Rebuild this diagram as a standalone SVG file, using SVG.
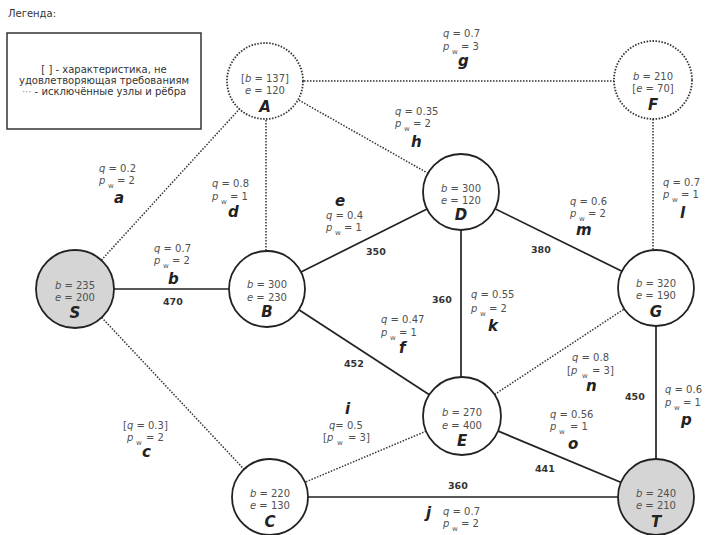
<svg xmlns="http://www.w3.org/2000/svg" width="705" height="535" viewBox="0 0 705 535">
<style>
text{font-family:"DejaVu Sans","Liberation Sans",sans-serif}
.lbl{font-size:10px;fill:#505050}
.it{font-style:italic}
.sub{font-size:7px}
.num{font-size:9.5px;font-weight:bold;fill:#333}
.let{font-size:15px;font-weight:bold;font-style:italic;fill:#222}
.ntx{font-size:10px;fill:#505050;text-anchor:middle}
.nlet{font-size:15px;font-weight:bold;font-style:italic;fill:#222;text-anchor:middle}
.node circle{fill:#fff;stroke:#222;stroke-width:1.8}
.node.grey circle{fill:#d5d5d5}
.node.excl circle{stroke:#333;stroke-dasharray:1.5 1.5}
.solid{stroke:#222;stroke-width:1.7;fill:none}
.dot{stroke:#333;stroke-width:1.5;stroke-dasharray:1.5 1.5;fill:none}
.leg{font-size:10px;fill:#333;text-anchor:middle}
</style>
<rect width="705" height="535" fill="#fff"/>
<g id="legend">
<text x="8" y="17" style="font-size:10px;fill:#333">Легенда:</text>
<rect x="7" y="33" width="194" height="96" fill="#fff" stroke="#333" stroke-width="1.5"/>
<text class="leg" x="104" y="73">[ ] - характеристика, не</text>
<text class="leg" x="104" y="84">удовлетворяющая требованиям</text>
<text class="leg" x="104" y="95"><tspan fill="#999">···</tspan> - исключённые узлы и рёбра</text>
</g>
<g id="edges">
<line id="edge-a" class="dot" x1="75" y1="289" x2="265" y2="81"/>
<line id="edge-b" class="solid" x1="75" y1="289" x2="267" y2="289"/>
<line id="edge-c" class="dot" x1="75" y1="289" x2="270" y2="497"/>
<line id="edge-d" class="dot" x1="266" y1="81" x2="266" y2="289"/>
<line id="edge-e" class="solid" x1="267" y1="289" x2="461" y2="192"/>
<line id="edge-f" class="solid" x1="267" y1="289" x2="462" y2="416"/>
<line id="edge-g" class="dot" x1="265" y1="81" x2="653" y2="81"/>
<line id="edge-h" class="dot" x1="265" y1="81" x2="461" y2="192"/>
<line id="edge-i" class="dot" x1="270" y1="497" x2="462" y2="416"/>
<line id="edge-j" class="solid" x1="270" y1="497" x2="656" y2="497"/>
<line id="edge-k" class="solid" x1="461" y1="192" x2="461" y2="416"/>
<line id="edge-l" class="dot" x1="653" y1="80" x2="653" y2="288"/>
<line id="edge-m" class="solid" x1="461" y1="192" x2="656" y2="288"/>
<line id="edge-n" class="dot" x1="462" y1="416" x2="656" y2="288"/>
<line id="edge-o" class="solid" x1="462" y1="416" x2="656" y2="497"/>
<line id="edge-p" class="solid" x1="656" y1="288" x2="656" y2="497"/>
</g>
<g id="edge-labels">
<!-- a -->
<text class="lbl" x="99" y="172"><tspan class="it">q</tspan> = 0.2</text>
<text class="lbl"><tspan class="it" x="99" y="184">p</tspan><tspan class="sub" x="108" y="188">w</tspan><tspan x="117" y="184">= 2</tspan></text>
<text class="let" x="114" y="203">a</text>
<!-- b -->
<text class="lbl" x="154" y="252"><tspan class="it">q</tspan> = 0.7</text>
<text class="lbl"><tspan class="it" x="154" y="264">p</tspan><tspan class="sub" x="163" y="268">w</tspan><tspan x="172" y="264">= 2</tspan></text>
<text class="let" x="168" y="284">b</text>
<text class="num" x="163" y="305">470</text>
<!-- c -->
<text class="lbl" x="123" y="429">[<tspan class="it">q</tspan>  = 0.3]</text>
<text class="lbl"><tspan class="it" x="127" y="441">p</tspan><tspan class="sub" x="136" y="445">w</tspan><tspan x="146" y="441">= 2</tspan></text>
<text class="let" x="142" y="457">c</text>
<!-- d -->
<text class="lbl" x="212" y="187"><tspan class="it">q</tspan> = 0.8</text>
<text class="lbl"><tspan class="it" x="212" y="200">p</tspan><tspan class="sub" x="221" y="204">w</tspan><tspan x="230" y="200">= 1</tspan></text>
<text class="let" x="228" y="217">d</text>
<!-- e -->
<text class="let" x="335" y="206">e</text>
<text class="lbl" x="326" y="219"><tspan class="it">q</tspan> = 0.4</text>
<text class="lbl"><tspan class="it" x="326" y="231">p</tspan><tspan class="sub" x="335" y="235">w</tspan><tspan x="344" y="231">= 1</tspan></text>
<text class="num" x="366" y="255">350</text>
<!-- f -->
<text class="lbl" x="381" y="323"><tspan class="it">q</tspan> = 0.47</text>
<text class="lbl"><tspan class="it" x="381" y="336">p</tspan><tspan class="sub" x="390" y="340">w</tspan><tspan x="399" y="336">= 1</tspan></text>
<text class="let" x="399" y="353">f</text>
<text class="num" x="344" y="367">452</text>
<!-- g -->
<text class="lbl" x="443" y="37"><tspan class="it">q</tspan> = 0.7</text>
<text class="lbl"><tspan class="it" x="443" y="50">p</tspan><tspan class="sub" x="452" y="54">w</tspan><tspan x="461" y="50">= 3</tspan></text>
<text class="let" x="458" y="66">g</text>
<!-- h -->
<text class="lbl" x="395" y="115"><tspan class="it">q</tspan> = 0.35</text>
<text class="lbl"><tspan class="it" x="395" y="127">p</tspan><tspan class="sub" x="404" y="131">w</tspan><tspan x="413" y="127">= 2</tspan></text>
<text class="let" x="411" y="147">h</text>
<!-- i -->
<text class="let" x="345" y="414">i</text>
<text class="lbl" x="329" y="429"><tspan class="it">q</tspan>= 0.5</text>
<text class="lbl"><tspan x="323" y="441">[</tspan><tspan class="it" x="327" y="441">p</tspan><tspan class="sub" x="337" y="445">w</tspan><tspan x="348" y="441">= 3]</tspan></text>
<!-- j -->
<text class="num" x="448" y="489">360</text>
<text class="let" x="426" y="518">j</text>
<text class="lbl" x="443" y="515"><tspan class="it">q</tspan> = 0.7</text>
<text class="lbl"><tspan class="it" x="443" y="527">p</tspan><tspan class="sub" x="452" y="531">w</tspan><tspan x="461" y="527">= 2</tspan></text>
<!-- k -->
<text class="num" x="432" y="303">360</text>
<text class="lbl" x="471" y="298"><tspan class="it">q</tspan> = 0.55</text>
<text class="lbl"><tspan class="it" x="471" y="312">p</tspan><tspan class="sub" x="480" y="316">w</tspan><tspan x="489" y="312">= 2</tspan></text>
<text class="let" x="488" y="331">k</text>
<!-- l -->
<text class="lbl" x="663" y="186"><tspan class="it">q</tspan> = 0.7</text>
<text class="lbl"><tspan class="it" x="663" y="198">p</tspan><tspan class="sub" x="672" y="202">w</tspan><tspan x="681" y="198">= 1</tspan></text>
<text class="let" x="680" y="218">l</text>
<!-- m -->
<text class="lbl" x="570" y="205"><tspan class="it">q</tspan> = 0.6</text>
<text class="lbl"><tspan class="it" x="570" y="217">p</tspan><tspan class="sub" x="579" y="221">w</tspan><tspan x="588" y="217">= 2</tspan></text>
<text class="let" x="576" y="235">m</text>
<text class="num" x="531" y="253">380</text>
<!-- n -->
<text class="lbl" x="572" y="361"><tspan class="it">q</tspan> = 0.8</text>
<text class="lbl"><tspan x="567" y="374">[</tspan><tspan class="it" x="571" y="374">p</tspan><tspan class="sub" x="582" y="378">w</tspan><tspan x="592" y="374">= 3]</tspan></text>
<text class="let" x="586" y="391">n</text>
<text class="num" x="625" y="400">450</text>
<!-- o -->
<text class="lbl" x="550" y="418"><tspan class="it">q</tspan> = 0.56</text>
<text class="lbl"><tspan class="it" x="550" y="430">p</tspan><tspan class="sub" x="559" y="434">w</tspan><tspan x="570" y="430">= 1</tspan></text>
<text class="let" x="568" y="449">o</text>
<text class="num" x="535" y="472">441</text>
<!-- p -->
<text class="lbl" x="665" y="393"><tspan class="it">q</tspan> = 0.6</text>
<text class="lbl"><tspan class="it" x="665" y="406">p</tspan><tspan class="sub" x="674" y="410">w</tspan><tspan x="683" y="406">= 1</tspan></text>
<text class="let" x="681" y="425">p</text>
</g>
<g id="node-A" class="node excl">
<circle cx="265" cy="81" r="38"/>
<text class="ntx" x="265" y="82">[<tspan class="it">b</tspan> = 137]</text>
<text class="ntx" x="265" y="94"><tspan class="it">e</tspan> = 120</text>
<text class="nlet" x="265" y="112">A</text>
</g>
<g id="node-F" class="node excl">
<circle cx="653" cy="80" r="39"/>
<text class="ntx" x="653" y="80"><tspan class="it">b</tspan> = 210</text>
<text class="ntx" x="653" y="92">[<tspan class="it">e</tspan> = 70]</text>
<text class="nlet" x="653" y="110">F</text>
</g>
<g id="node-S" class="node grey">
<circle cx="75" cy="289" r="39"/>
<text class="ntx" x="75" y="289"><tspan class="it">b</tspan> = 235</text>
<text class="ntx" x="75" y="301"><tspan class="it">e</tspan> = 200</text>
<text class="nlet" x="75" y="318">S</text>
</g>
<g id="node-B" class="node">
<circle cx="267" cy="289" r="38"/>
<text class="ntx" x="267" y="288"><tspan class="it">b</tspan> = 300</text>
<text class="ntx" x="267" y="301"><tspan class="it">e</tspan> = 230</text>
<text class="nlet" x="267" y="317">B</text>
</g>
<g id="node-D" class="node">
<circle cx="461" cy="192" r="38"/>
<text class="ntx" x="461" y="192"><tspan class="it">b</tspan> = 300</text>
<text class="ntx" x="461" y="204"><tspan class="it">e</tspan> = 120</text>
<text class="nlet" x="461" y="220">D</text>
</g>
<g id="node-G" class="node">
<circle cx="656" cy="288" r="38"/>
<text class="ntx" x="656" y="287"><tspan class="it">b</tspan> = 320</text>
<text class="ntx" x="656" y="299"><tspan class="it">e</tspan> = 190</text>
<text class="nlet" x="656" y="317">G</text>
</g>
<g id="node-E" class="node">
<circle cx="462" cy="416" r="39"/>
<text class="ntx" x="462" y="416"><tspan class="it">b</tspan> = 270</text>
<text class="ntx" x="462" y="429"><tspan class="it">e</tspan> = 400</text>
<text class="nlet" x="462" y="446">E</text>
</g>
<g id="node-C" class="node">
<circle cx="270" cy="497" r="38"/>
<text class="ntx" x="270" y="497"><tspan class="it">b</tspan> = 220</text>
<text class="ntx" x="270" y="509"><tspan class="it">e</tspan> = 130</text>
<text class="nlet" x="270" y="527">C</text>
</g>
<g id="node-T" class="node grey">
<circle cx="656" cy="497" r="38"/>
<text class="ntx" x="656" y="497"><tspan class="it">b</tspan> = 240</text>
<text class="ntx" x="656" y="509"><tspan class="it">e</tspan> = 210</text>
<text class="nlet" x="656" y="527">T</text>
</g>
</svg>
